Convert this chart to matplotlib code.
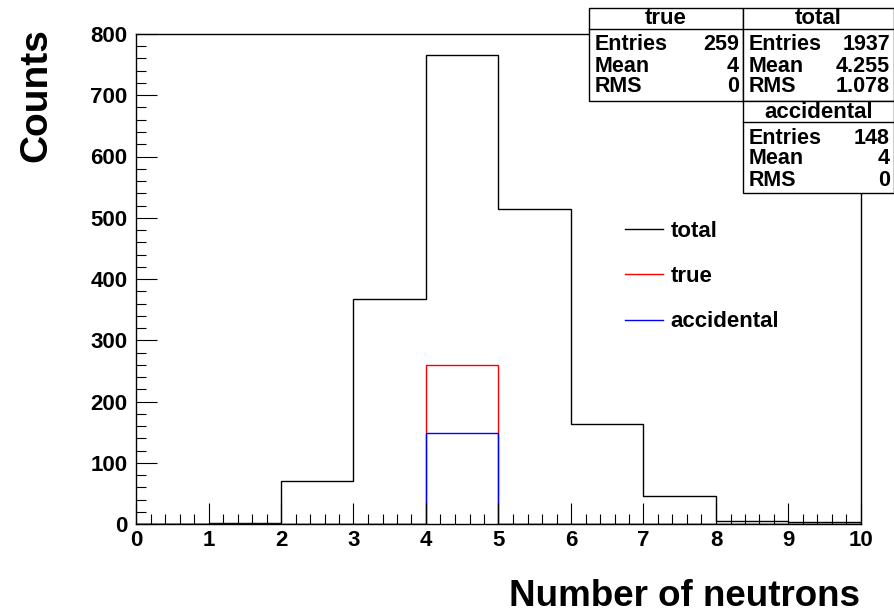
import numpy as np
import matplotlib
matplotlib.use("Agg")
import matplotlib.pyplot as plt
from matplotlib.patches import Rectangle

# histogram contents, bins of width 1 from 0 to 10
edges = np.arange(0, 11)
total = [0, 2, 70, 368, 765, 515, 164, 45, 5, 3]
true_ = [0, 0, 0, 0, 259, 0, 0, 0, 0, 0]
accid = [0, 0, 0, 0, 148, 0, 0, 0, 0, 0]

stats = {
    "true": [("Entries", "259"), ("Mean", "4"), ("RMS", "0")],
    "total": [("Entries", "1937"), ("Mean", "4.255"), ("RMS", "1.078")],
    "accidental": [("Entries", "148"), ("Mean", "4"), ("RMS", "0")],
}

plt.rcParams['font.family'] = ['Liberation Sans', 'DejaVu Sans']
plt.rcParams['font.weight'] = 'bold'

W, H = 895, 614
fig = plt.figure(figsize=(W / 100, H / 100), dpi=100)
ax = fig.add_axes([136 / W, 1 - 524 / H, (861 - 136) / W, (524 - 34) / H])

ax.stairs(total, edges, color='black', lw=1.0, label='total')
ax.stairs(true_, edges, color='red', lw=1.0, label='true')
ax.stairs(accid, edges, color='blue', lw=1.0, label='accidental')

ax.set_xlim(0, 10)
ax.set_ylim(0, 800)
ax.set_xticks(np.arange(0, 11))
ax.set_xticks(np.arange(0, 10.01, 0.2), minor=True)
ax.set_yticks(np.arange(0, 801, 100))
ax.set_yticks(np.arange(0, 801, 20), minor=True)
ax.tick_params(which='both', direction='in', top=False, right=False, labelsize=16)
ax.tick_params(which='major', length=15, width=0.8)
ax.tick_params(which='minor', length=7, width=0.8)
ax.tick_params(axis='y', pad=6)
ax.tick_params(axis='x', pad=4)
for s in ax.spines.values():
    s.set_linewidth(1.0)
for lab in ax.get_xticklabels() + ax.get_yticklabels():
    lab.set_fontweight('bold')

fig.text(860 / W, 1 - 596 / H, "Number of neutrons", ha='right', va='center',
         fontsize=26.5, fontweight='bold')
fig.text(36 / W, 1 - 28 / H, "Counts", ha='center', va='top', rotation=90,
         fontsize=28, fontweight='bold')

leg = ax.legend(loc='upper left', bbox_to_anchor=(0.647, 0.66), frameon=False,
                fontsize=16, handlelength=1.7, labelspacing=1.1, handletextpad=0.35)
for t in leg.get_texts():
    t.set_fontweight('bold')


def statbox(name, x0, x1, y0, y1):
    # pixel coords -> figure fraction
    fx = lambda v: v / W
    fy = lambda v: 1 - v / H
    fig.patches.append(Rectangle((fx(x0), fy(y1)), fx(x1) - fx(x0), fy(y0) - fy(y1),
                                 transform=fig.transFigure, facecolor='white',
                                 edgecolor='black', lw=1.0, zorder=5))
    fig.lines.append(plt.Line2D([fx(x0), fx(x1)], [fy(y0 + 21), fy(y0 + 21)],
                                transform=fig.transFigure, color='black', lw=1.0, zorder=6))
    fig.text(fx((x0 + x1) / 2), fy(y0 + 11), name, ha='center', va='center',
             fontsize=16, fontweight='bold', zorder=7)
    for i, (k, v) in enumerate(stats[name]):
        yy = fy(y0 + 37 + 21 * i)
        fig.text(fx(x0 + 6), yy, k, ha='left', va='center', fontsize=15.5,
                 fontweight='bold', zorder=7)
        fig.text(fx(x1 - 4), yy, v, ha='right', va='center', fontsize=15.5,
                 fontweight='bold', zorder=7)


statbox("true", 589, 743, 8, 101)
statbox("total", 743, 894, 8, 101)
statbox("accidental", 743, 894, 101, 193)

fig.savefig("out.png", dpi=100)
